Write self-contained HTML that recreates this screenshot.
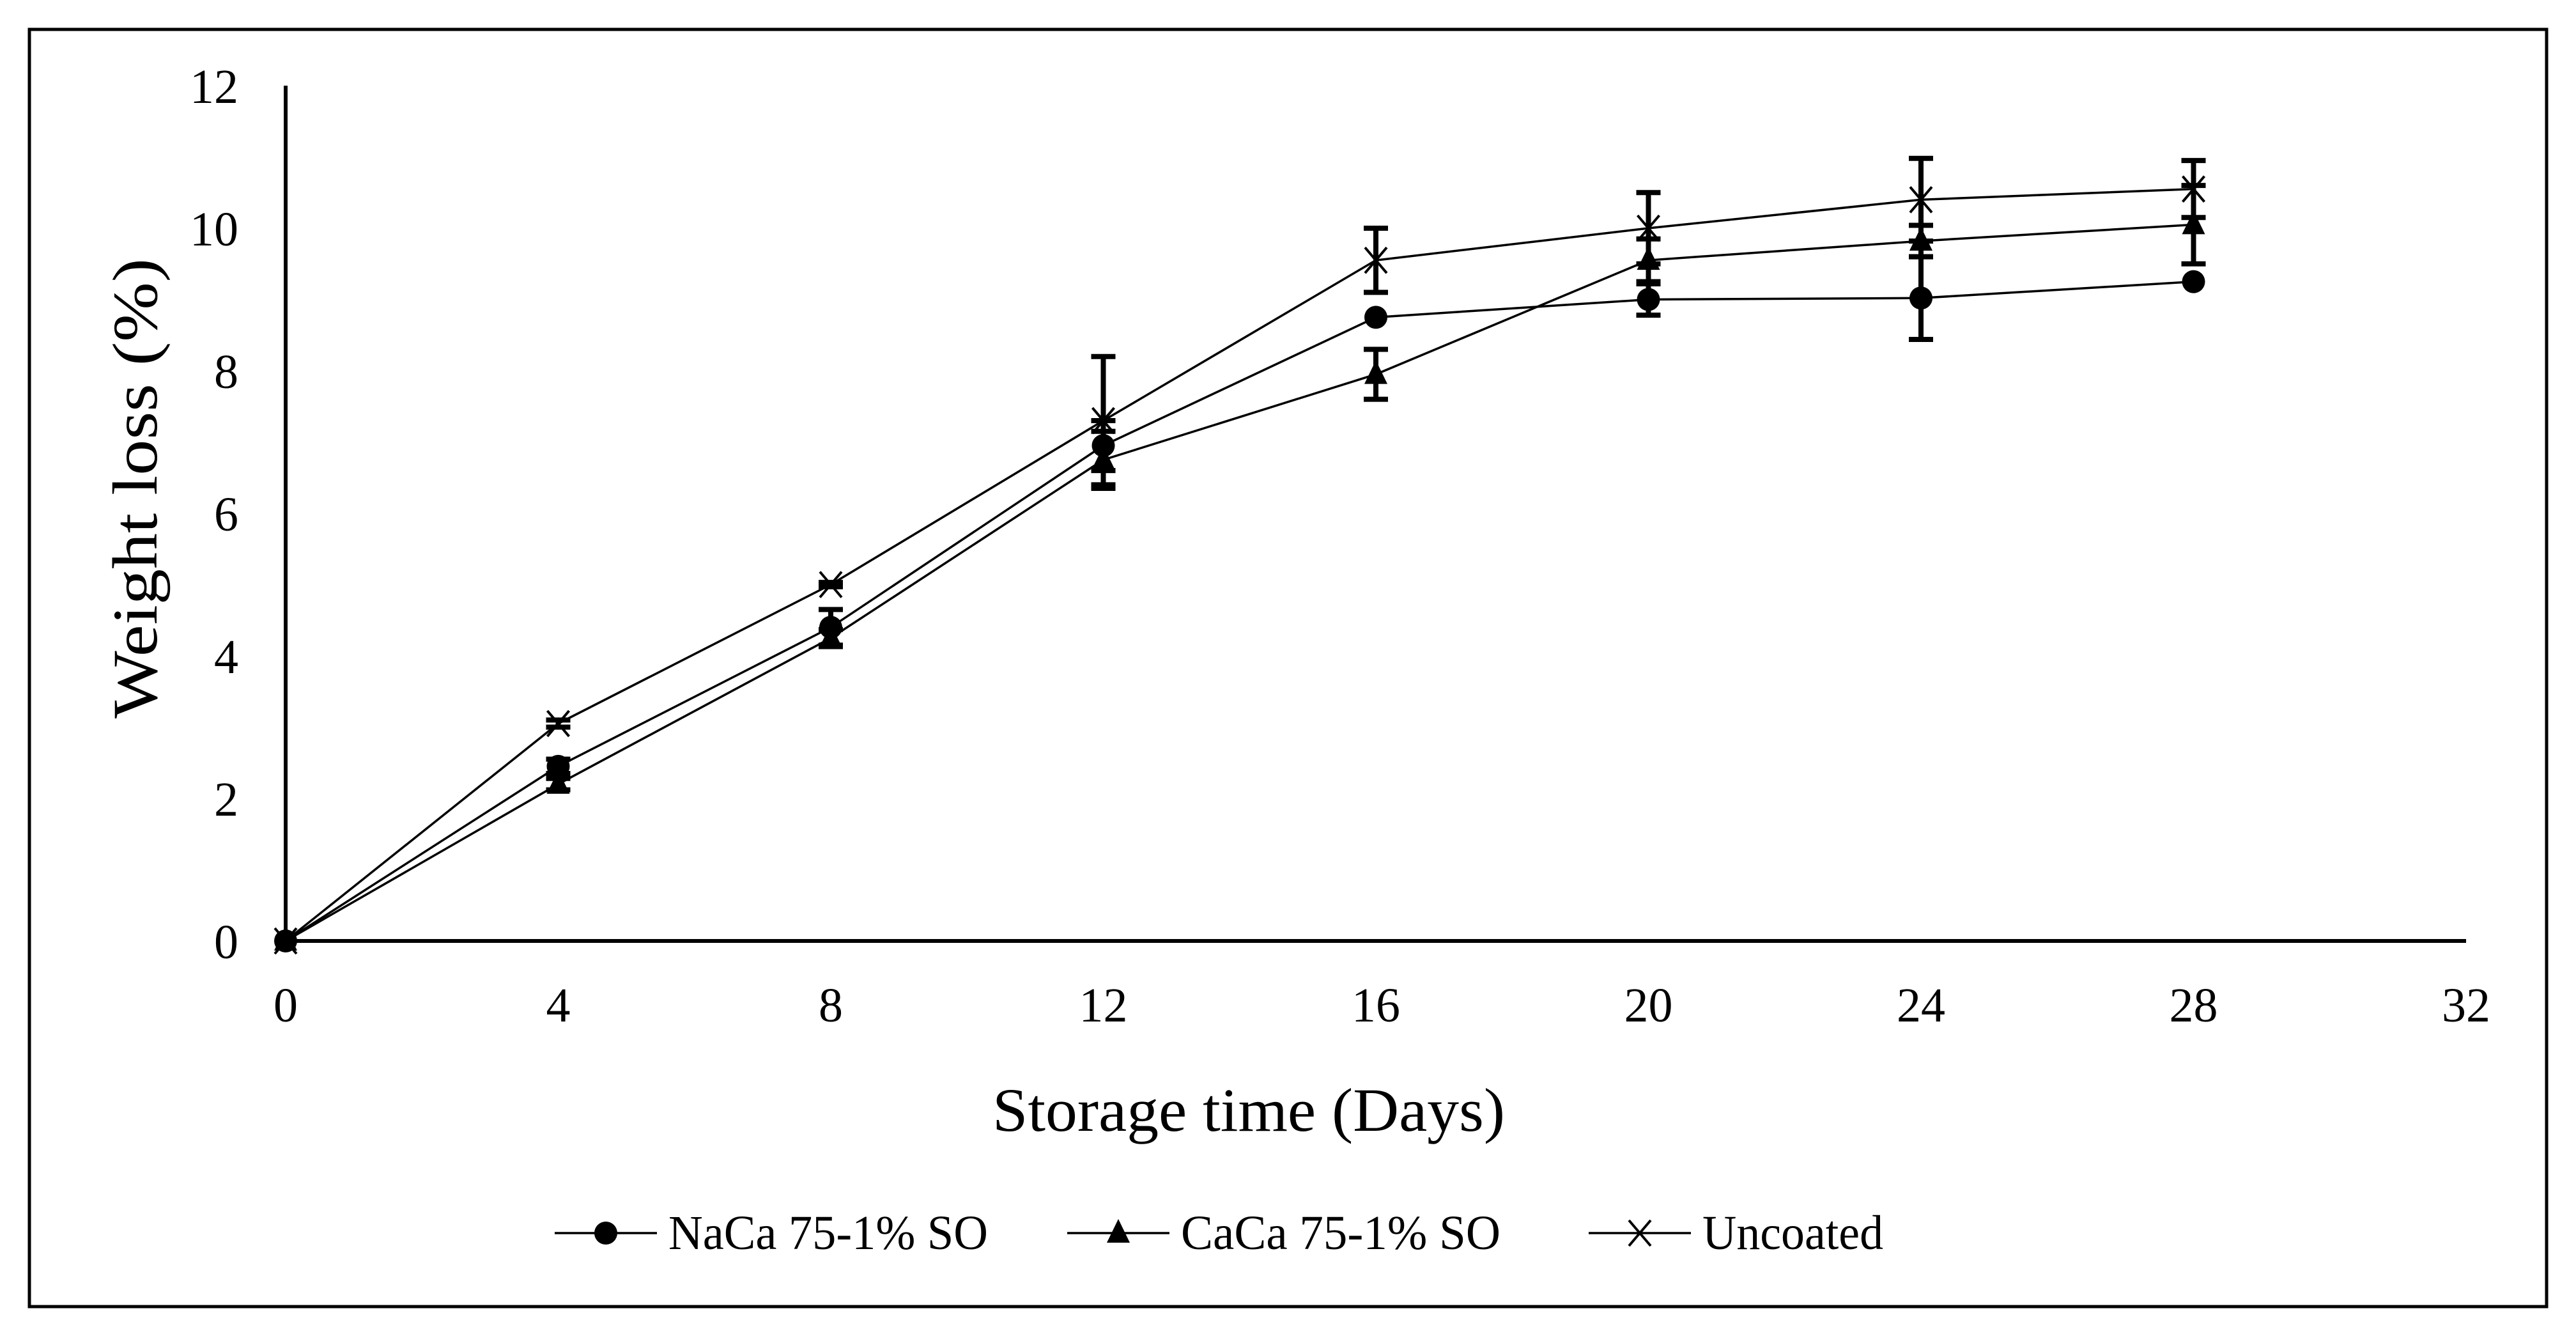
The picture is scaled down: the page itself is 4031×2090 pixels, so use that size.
<!DOCTYPE html>
<html><head><meta charset="utf-8"><style>
html,body{margin:0;padding:0;background:#fff}
svg{display:block}
text{font-family:"Liberation Serif",serif;fill:#000}
</style></head><body>
<svg id="chart" xmlns="http://www.w3.org/2000/svg" width="4031" height="2090" viewBox="0 0 4031 2090">
<rect x="46" y="46" width="3939" height="1998" fill="#fff" stroke="#000" stroke-width="5"/>
<g id="plot"></g>
</svg>
<script>
const days=[0,4,8,12,16,20,24,28];
const nacaValues=[0,2.45,4.4,6.95,8.75,9.0,9.02,9.25];
const nacaErrors=[0,0.1,0.25,0.35,0,0.22,0.58,0];
const cacaValues=[0,2.2,4.25,6.75,7.95,9.55,9.82,10.05];
const cacaErrors=[0,0.08,0.12,0.4,0.35,0.3,0.22,0.55];
const uncoatedValues=[0,3.05,5.0,7.3,9.55,10.0,10.4,10.55];
const uncoatedErrors=[0,0.05,0.03,0.9,0.45,0.5,0.58,0.4];
const xTicks=[0,4,8,12,16,20,24,28,32];
const yTicks=[0,2,4,6,8,10,12];

const NS="http://www.w3.org/2000/svg";
const g=document.getElementById('plot');
const X0=447,X1=3859,Y0=1472,Y1=134;
const xs=v=>X0+(v/32)*(X1-X0);
const ys=v=>Y0-(v/12)*(Y0-Y1);
function mk(tag,attrs,parent){const e=document.createElementNS(NS,tag);for(const k in attrs)e.setAttribute(k,attrs[k]);(parent||g).appendChild(e);return e;}

let e=mk('line',{x1:X0,y1:Y1,x2:X0,y2:Y0,stroke:'#000','stroke-width':6});


e=mk('line',{x1:X0,y1:Y0,x2:X1,y2:Y0,stroke:'#000','stroke-width':6});



yTicks.forEach(t=>{
  const tx=mk('text',{x:373,y:ys(t)+27,'text-anchor':'end','font-size':76});
  tx.textContent=t;
  
  
});
xTicks.forEach(t=>{
  const tx=mk('text',{x:xs(t),y:1598,'text-anchor':'middle','font-size':76});
  tx.textContent=t;
  
  
});
e=mk('text',{x:1954,y:1769,'text-anchor':'middle','font-size':96,textLength:802,lengthAdjust:'spacingAndGlyphs'});
e.textContent='Storage time (Days)';


e=mk('text',{x:0,y:0,'text-anchor':'middle','font-size':100,textLength:720,lengthAdjust:'spacingAndGlyphs',transform:'translate(245,764) rotate(-90)'});
e.textContent='Weight loss (%)';



function marker(type,cx,cy,parent){
  let m;
  if(type==='circle') m=mk('circle',{cx:cx,cy:cy,r:18,fill:'#000'},parent);
  else if(type==='tri') m=mk('polygon',{points:`${cx},${cy-22} ${cx+18},${cy+15} ${cx-18},${cy+15}`,fill:'#000'},parent);
  else m=mk('path',{d:`M${cx-17},${cy-20}L${cx+17},${cy+20}M${cx+17},${cy-20}L${cx-17},${cy+20}`,stroke:'#000','stroke-width':4,fill:'none'},parent);
  return m;
}

function series(name,vals,errs,type){
  const sg=mk('g',{});
  
  
  const pts=days.map((d,i)=>xs(d)+','+ys(vals[i])).join(' ');
  const pl=mk('polyline',{points:pts,fill:'none',stroke:'#000','stroke-width':3.5},sg);
  
  
  days.forEach((d,i)=>{
    if(errs[i]>0){
      const x=xs(d),yt=ys(vals[i]+errs[i]),yb=ys(vals[i]-errs[i]);
      const eb=mk('path',{d:`M${x},${yt}L${x},${yb}M${x-19},${yt}L${x+19},${yt}M${x-19},${yb}L${x+19},${yb}`,stroke:'#000','stroke-width':8,fill:'none'},sg);
      
      
    }
  });
  days.forEach((d,i)=>{
    const m=marker(type,xs(d),ys(vals[i]),sg);
    
    
  });
}
series('naca',nacaValues,nacaErrors,'circle');
series('caca',cacaValues,cacaErrors,'tri');
series('uncoated',uncoatedValues,uncoatedErrors,'x');

const legend=[['naca','NaCa 75-1% SO','circle',868,500],['caca','CaCa 75-1% SO','tri',1670,500],['uncoated','Uncoated','x',2486,283]];
const lg=mk('g',{});


legend.forEach(([k,label,type,x,w])=>{
  const eg=mk('g',{},lg);
  
  
  mk('line',{x1:x,y1:1929,x2:x+160,y2:1929,stroke:'#000','stroke-width':3.5},eg);
  marker(type,x+80,1929,eg);
  const t=mk('text',{x:x+178,y:1954,'font-size':76,textLength:w,lengthAdjust:'spacingAndGlyphs'},eg);
  t.textContent=label;
});
</script>
</body></html>
